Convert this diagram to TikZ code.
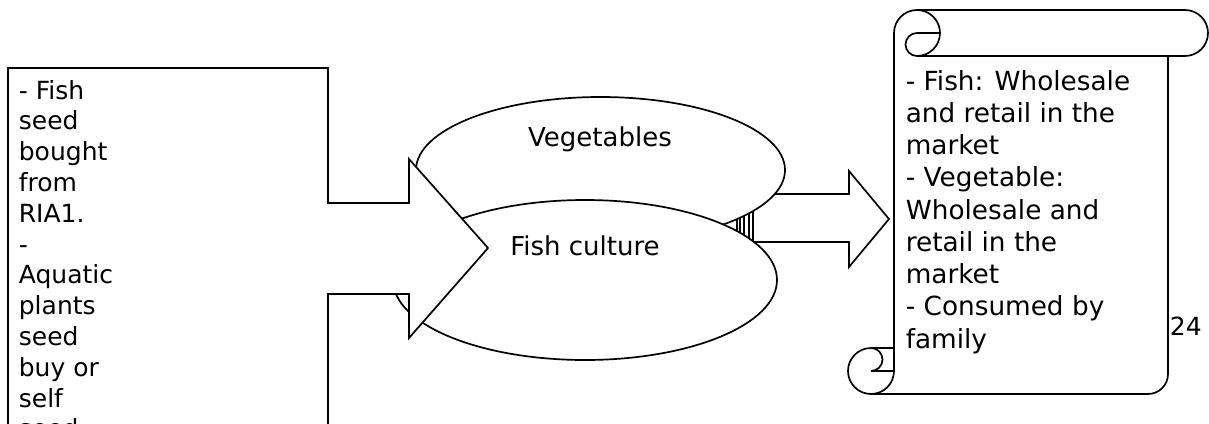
\documentclass[tikz,border=0pt]{standalone}
\usepackage{fontspec}
\setmainfont{DejaVu Sans}
\usetikzlibrary{shapes.geometric}
\begin{document}
\begin{tikzpicture}[x=1pt,y=-1pt, line width=1.7pt, line join=miter,
  blk/.style={draw=black, fill=white},
  txtA/.style={font=\fontsize{25}{30.8}\selectfont, align=left, anchor=base west, inner sep=0},
  txtB/.style={font=\fontsize{26.3}{32.25}\selectfont, align=left, anchor=base west, inner sep=0},
  lbl/.style={font=\fontsize{26}{30}\selectfont, anchor=base, inner sep=0},
  oval/.style={ellipse, draw=black, fill=white, inner sep=0}]
\clip (0,0) rectangle (1209,423);
\fill[white] (0,0) rectangle (1209,423);
% striped right arrow
\draw[blk] (753,194) -- (849,194) -- (849,171) -- (889,219) -- (849,267) -- (849,242) -- (753,242) -- cycle;
\draw[blk] (744,194) rectangle (749,242);
\draw[blk] (737,194) rectangle (740,242);
% ellipses
\node[oval, minimum width=369pt, minimum height=146pt] (veg) at (600.5,170) {};
\node[oval, minimum width=384pt, minimum height=160pt] (fish) at (585,280) {};
\node[lbl] (vegtxt) at (600,146) {Vegetables};
\node[lbl] (fishtxt) at (585,255) {Fish culture};
% left callout
\draw[blk] (8,68) -- (328,68) -- (328,203) -- (409,203) -- (409,159) -- (488,248) -- (409,338) -- (409,294) -- (328,294) -- (328,440) -- (8,440) -- cycle;
\node[txtA] (inputs) at (18,437.8) {- Fish\\seed\\bought\\from\\RIA1.\\-\\Aquatic\\plants\\seed\\buy or\\self\\seed};
% scroll
\draw (871,348) arc[start angle=270, end angle=90, radius=23] -- (1148,394) arc[start angle=90, end angle=0, radius=20] -- (1168,56);
\draw (871,394) arc[start angle=90, end angle=0, radius=23] -- (894,33) arc[start angle=180, end angle=450, radius=23] arc[start angle=90, end angle=270, radius=11.5] -- (940,33);
\draw (917,10) -- (1185,10) arc[start angle=270, end angle=450, radius=23] -- (917,56);
\draw (894,348) -- (871,348) arc[start angle=-90, end angle=90, radius=11.5] -- (894,371);
\node[txtB] (outputs) at (905,348) {- Fish: Wholesale\\and retail in the\\market\\- Vegetable:\\Wholesale and\\retail in the\\market\\- Consumed by\\family};
\node[font=\fontsize{25}{30}\selectfont, anchor=base west, inner sep=0] (pg) at (1169,335) {24};
\end{tikzpicture}
\end{document}
